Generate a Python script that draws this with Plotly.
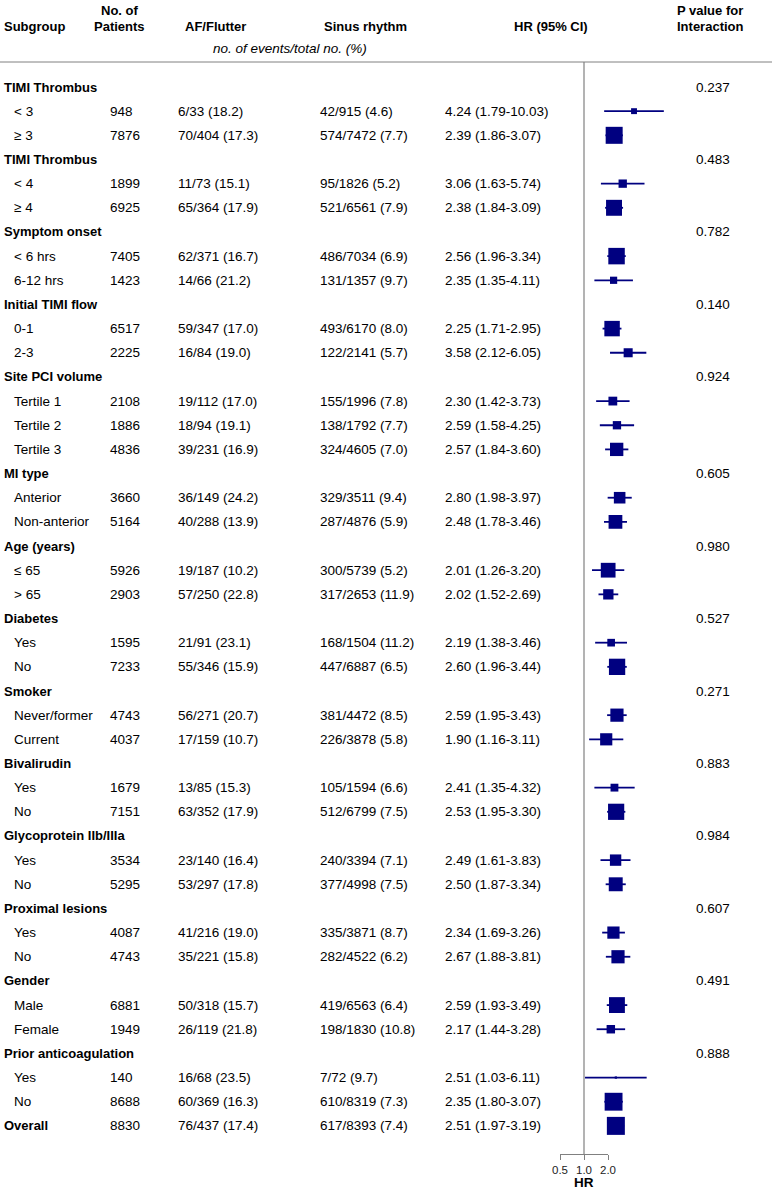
import math
import plotly.graph_objects as go

# ---------------- data ----------------
groups = ["TIMI Thrombus", "TIMI Thrombus", "Symptom onset", "Initial TIMI flow",
          "Site PCI volume", "MI type", "Age (years)", "Diabetes", "Smoker",
          "Bivalirudin", "Glycoprotein IIb/IIIa", "Proximal lesions", "Gender",
          "Prior anticoagulation"]
p_interaction = ["0.237", "0.483", "0.782", "0.140", "0.924", "0.605", "0.980",
                 "0.527", "0.271", "0.883", "0.984", "0.607", "0.491", "0.888"]
group_sizes = [2, 2, 2, 2, 3, 2, 2, 2, 2, 2, 2, 2, 2, 2]

subgroups = ["< 3", "≥ 3", "< 4", "≥ 4", "< 6 hrs", "6-12 hrs", "0-1", "2-3",
             "Tertile 1", "Tertile 2", "Tertile 3", "Anterior", "Non-anterior",
             "≤ 65", "> 65", "Yes", "No", "Never/former", "Current", "Yes", "No",
             "Yes", "No", "Yes", "No", "Male", "Female", "Yes", "No"]
n_patients = [948, 7876, 1899, 6925, 7405, 1423, 6517, 2225, 2108, 1886, 4836,
              3660, 5164, 5926, 2903, 1595, 7233, 4743, 4037, 1679, 7151, 3534,
              5295, 4087, 4743, 6881, 1949, 140, 8688]
af_events = [6, 70, 11, 65, 62, 14, 59, 16, 19, 18, 39, 36, 40, 19, 57, 21, 55,
             56, 17, 13, 63, 23, 53, 41, 35, 50, 26, 16, 60]
af_total = [33, 404, 73, 364, 371, 66, 347, 84, 112, 94, 231, 149, 288, 187, 250,
            91, 346, 271, 159, 85, 352, 140, 297, 216, 221, 318, 119, 68, 369]
af_pct = [18.2, 17.3, 15.1, 17.9, 16.7, 21.2, 17.0, 19.0, 17.0, 19.1, 16.9, 24.2,
          13.9, 10.2, 22.8, 23.1, 15.9, 20.7, 10.7, 15.3, 17.9, 16.4, 17.8, 19.0,
          15.8, 15.7, 21.8, 23.5, 16.3]
sr_events = [42, 574, 95, 521, 486, 131, 493, 122, 155, 138, 324, 329, 287, 300,
             317, 168, 447, 381, 226, 105, 512, 240, 377, 335, 282, 419, 198, 7, 610]
sr_total = [915, 7472, 1826, 6561, 7034, 1357, 6170, 2141, 1996, 1792, 4605, 3511,
            4876, 5739, 2653, 1504, 6887, 4472, 3878, 1594, 6799, 3394, 4998, 3871,
            4522, 6563, 1830, 72, 8319]
sr_pct = [4.6, 7.7, 5.2, 7.9, 6.9, 9.7, 8.0, 5.7, 7.8, 7.7, 7.0, 9.4, 5.9, 5.2,
          11.9, 11.2, 6.5, 8.5, 5.8, 6.6, 7.5, 7.1, 7.5, 8.7, 6.2, 6.4, 10.8, 9.7, 7.3]
hr = [4.24, 2.39, 3.06, 2.38, 2.56, 2.35, 2.25, 3.58, 2.30, 2.59, 2.57, 2.80, 2.48,
      2.01, 2.02, 2.19, 2.60, 2.59, 1.90, 2.41, 2.53, 2.49, 2.50, 2.34, 2.67, 2.59,
      2.17, 2.51, 2.35]
hr_lo = [1.79, 1.86, 1.63, 1.84, 1.96, 1.35, 1.71, 2.12, 1.42, 1.58, 1.84, 1.98,
         1.78, 1.26, 1.52, 1.38, 1.96, 1.95, 1.16, 1.35, 1.95, 1.61, 1.87, 1.69,
         1.88, 1.93, 1.44, 1.03, 1.80]
hr_hi = [10.03, 3.07, 5.74, 3.09, 3.34, 4.11, 2.95, 6.05, 3.73, 4.25, 3.60, 3.97,
         3.46, 3.20, 2.69, 3.46, 3.44, 3.43, 3.11, 4.32, 3.30, 3.83, 3.34, 3.26,
         3.81, 3.49, 3.28, 6.11, 3.07]

overall_label = "Overall"
overall_n = 8830
overall_af = (76, 437, 17.4)
overall_sr = (617, 8393, 7.4)
overall_hr = (2.51, 1.97, 3.19)

hr_ref = 1.0
hr_ticks = [0.5, 1.0, 2.0]
hr_ticktext = ["0.5", "1.0", "2.0"]

# ---------------- layout constants ----------------
W, H = 772, 1190
ROW0, PITCH = 87.0, 24.16          # pixel y of first row, row pitch
X_REF, PX_PER_DOUBLING = 584.0, 24.0
FONT = "Liberation Sans, Arial, sans-serif"
NAVY = "#000080"
GRAY = "#808080"
CLEAR = "rgba(0,0,0,0)"

def px_to_row(py):
    return (py - ROW0) / PITCH

def px_to_log10hr(px):
    return math.log10(2) * (px - X_REF) / PX_PER_DOUBLING

# build row list
rows = []
si = 0
for g, p, k in zip(groups, p_interaction, group_sizes):
    rows.append(dict(kind="group", label=g, p=p))
    for _ in range(k):
        rows.append(dict(kind="sub", label=subgroups[si], n=n_patients[si],
                         af=(af_events[si], af_total[si], af_pct[si]),
                         sr=(sr_events[si], sr_total[si], sr_pct[si]),
                         hr=(hr[si], hr_lo[si], hr_hi[si])))
        si += 1
rows.append(dict(kind="overall", label=overall_label, n=overall_n,
                 af=overall_af, sr=overall_sr, hr=overall_hr))

annotations = []

def add_text(text, xpx, yval, yref="y", size=13.5, bold=False, italic=False,
             anchor="left"):
    if bold:
        text = "<b>" + text + "</b>"
    if italic:
        text = "<i>" + text + "</i>"
    annotations.append(dict(text=text, x=xpx / W, xref="paper", y=yval, yref=yref,
                            xanchor=anchor, yanchor="middle", showarrow=False,
                            font=dict(family=FONT, size=size, color="black")))

COL_LABEL, COL_SUB, COL_N, COL_AF, COL_SR, COL_HR, COL_P = 2, 12, 108, 176, 318, 443, 694

ci_x, ci_y, box_x, box_y, box_s = [], [], [], [], []
for i, r in enumerate(rows):
    if r["kind"] == "group":
        add_text(r["label"], COL_LABEL, i, size=13, bold=True)
        add_text(r["p"], COL_P, i)
        continue
    if r["kind"] == "overall":
        add_text(r["label"], COL_LABEL, i, size=13, bold=True)
    else:
        add_text(r["label"], COL_SUB, i)
    add_text(str(r["n"]), COL_N, i)
    add_text(f"{r['af'][0]}/{r['af'][1]} ({r['af'][2]:.1f})", COL_AF, i)
    add_text(f"{r['sr'][0]}/{r['sr'][1]} ({r['sr'][2]:.1f})", COL_SR, i)
    h, lo, hi = r["hr"]
    add_text(f"{h:.2f} ({lo:.2f}-{hi:.2f})", COL_HR, i)
    ci_x += [lo, hi, None]
    ci_y += [i, i, None]
    box_x.append(h)
    box_y.append(i)
    box_s.append(18 * math.sqrt(r["n"] / overall_n))

def py(p):
    return 1 - p / H

add_text("Subgroup", 2, py(26), yref="paper", size=13, bold=True)
add_text("No. of", 119, py(11), yref="paper", size=13, bold=True, anchor="center")
add_text("Patients", 119, py(26), yref="paper", size=13, bold=True, anchor="center")
add_text("AF/Flutter", 215, py(26), yref="paper", size=13, bold=True, anchor="center")
add_text("Sinus rhythm", 365, py(26), yref="paper", size=13, bold=True, anchor="center")
add_text("HR (95% CI)", 551, py(26), yref="paper", size=13, bold=True, anchor="center")
add_text("P value for", 710, py(11), yref="paper", size=13, bold=True, anchor="center")
add_text("Interaction", 710, py(26), yref="paper", size=13, bold=True, anchor="center")
add_text("no. of events/total no. (%)", 290, py(49), yref="paper", size=13.5,
         italic=True, anchor="center")
add_text("HR", X_REF, py(1182), yref="paper", size=13.5, bold=True, anchor="center")

fig = go.Figure()

# reference line at HR = 1
fig.add_trace(go.Scatter(x=[hr_ref, hr_ref], y=[px_to_row(62), px_to_row(1154)],
                         mode="lines", line=dict(color=GRAY, width=1.2),
                         hoverinfo="skip", showlegend=False))
# confidence intervals
fig.add_trace(go.Scatter(x=ci_x, y=ci_y, mode="lines",
                         line=dict(color=NAVY, width=1.8), hoverinfo="skip",
                         showlegend=False))
# boxes
fig.add_trace(go.Scatter(x=box_x, y=box_y, mode="markers",
                         marker=dict(symbol="square", size=box_s, color=NAVY,
                                     opacity=1, line=dict(width=0)),
                         hoverinfo="skip", showlegend=False))
# invisible trace so the HR axis is drawn
fig.add_trace(go.Scatter(x=[hr_ref], y=[0], xaxis="x2", yaxis="y", mode="markers",
                         marker=dict(opacity=0), hoverinfo="skip", showlegend=False))

fig.update_layout(
    width=W, height=H,
    margin=dict(l=0, r=0, t=0, b=0, autoexpand=False),
    paper_bgcolor="white", plot_bgcolor=CLEAR,
    showlegend=False,
    xaxis=dict(type="log", range=[px_to_log10hr(0), px_to_log10hr(W)],
               domain=[0, 1], visible=False, fixedrange=True),
    xaxis2=dict(type="log", range=[math.log10(hr_ticks[0]), math.log10(hr_ticks[-1])],
                domain=[560 / W, 608 / W], anchor="free", position=1 - 1154 / H,
                showline=True, linecolor=GRAY, linewidth=1, ticks="outside",
                ticklen=5, tickcolor=GRAY, tickwidth=1, tickvals=hr_ticks,
                ticktext=hr_ticktext, showgrid=False, zeroline=False,
                tickfont=dict(family=FONT, size=11.5, color="#222222")),
    yaxis=dict(range=[px_to_row(H), px_to_row(0)], domain=[0, 1], visible=False,
               fixedrange=True),
    shapes=[
        dict(type="line", xref="paper", yref="paper", x0=0, x1=1,
             y0=py(62), y1=py(62), line=dict(color=GRAY, width=1)),
    ],
    annotations=annotations,
)

fig.write_html("out.html",
               config={"displayModeBar": False, "staticPlot": True},
               post_script="document.body.style.margin='0';"
                           "document.body.style.overflow='hidden';")
